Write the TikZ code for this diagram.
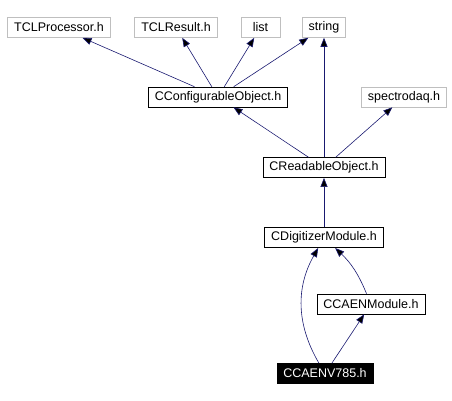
\documentclass[tikz,border=0pt]{standalone}
\usepackage{fontspec}
\setmainfont{Liberation Sans}
\usetikzlibrary{positioning}
\usetikzlibrary{arrows.meta}
\definecolor{edgeblue}{rgb}{0.1,0.1,0.44}
\definecolor{boxgray}{rgb}{0.75,0.75,0.75}

\begin{document}
\begin{tikzpicture}[
            x = 1pt, y = -1pt,
            > = {Triangle[length=9pt,width=7pt]}, % arrow head style
            line width = 0.6pt,
            font = \fontsize{12.5}{14}\selectfont
        ]

        \tikzstyle{hfile}=[
            draw = boxgray,
            text = black,
            inner xsep = 6.5pt,
            inner ysep = 0pt,
            minimum height = 20pt,
            minimum width = 39pt
        ]
        \tikzstyle{cfile}=[hfile, draw = black]
        \tikzstyle{dep}=[draw = edgeblue, ->]

        \useasboundingbox (0,0) rectangle (452,401);

        % included headers
        \node[hfile] (TP) at (59,27.5) {TCLProcessor.h};
        \node[hfile] (TR) at (176,27.5) {TCLResult.h};
        \node[hfile] (L) at (260.5,27.5) {list};
        \node[hfile] (S) at (324,27.5) {string};

        \node[cfile] (CO) at (218,97) {CConfigurableObject.h};
        \node[hfile] (SD) at (404,97) {spectrodaq.h};

        % readable chain
        \node[cfile] (RO) [below=119.5pt of S] {CReadableObject.h};
        \node[cfile] (DM) [below=49.5pt of RO] {CDigitizerModule.h};
        \node[cfile] (CM) at (371,304) {CCAENModule.h};
        \node[cfile, fill=black, text=white] (V) at (325,373.5) {CCAENV785.h};

        \path[dep] (CO) edge (TP);
        \path[dep] (CO) edge (TR);
        \path[dep] (CO) edge (L);
        \path[dep] (CO) edge (S);

        \path[dep] (RO) edge (CO);
        \path[dep] (RO) edge (S);
        \path[dep] (RO) edge (SD);

        \path[dep] (DM) edge (RO);
        \path[dep] (CM) edge[bend right=12] (DM);
        \path[dep] (V) edge[bend left=30] (DM);
        \path[dep] (V) edge (CM);

\end{tikzpicture}
\end{document}
